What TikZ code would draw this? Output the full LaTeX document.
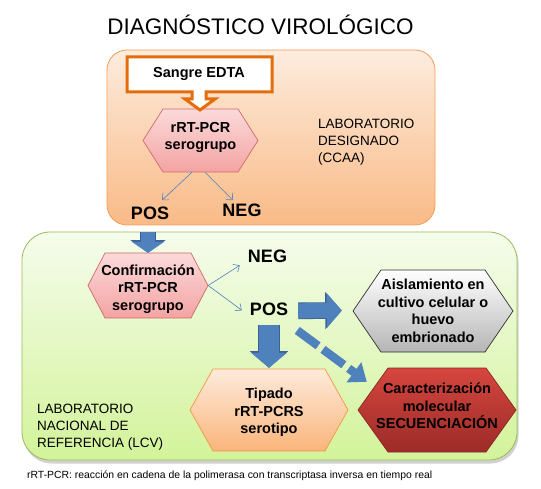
\documentclass[tikz,border=0pt]{standalone}
\usepackage{fontspec}
\setmainfont{Liberation Sans}
\usetikzlibrary{arrows.meta,calc}
\definecolor{orTop}{HTML}{FDECDE}
\definecolor{orBot}{HTML}{F9BA86}
\definecolor{orLine}{HTML}{F59D56}
\definecolor{grTop}{HTML}{F5FCEC}
\definecolor{grBot}{HTML}{D3F39A}
\definecolor{grLine}{HTML}{9BBB59}
\definecolor{callLine}{HTML}{E46C0A}
\definecolor{pkTop}{HTML}{FBDADA}
\definecolor{pkBot}{HTML}{F4A3A3}
\definecolor{pkLine}{HTML}{D06A68}
\definecolor{ohTop}{HTML}{FDEBDC}
\definecolor{ohBot}{HTML}{FAB57A}
\definecolor{ohLine}{HTML}{F79646}
\definecolor{gyTop}{HTML}{FFFFFF}
\definecolor{gyBot}{HTML}{B5B5B5}
\definecolor{gyLine}{HTML}{303030}
\definecolor{rdTop}{HTML}{D6463F}
\definecolor{rdBot}{HTML}{9C2B27}
\definecolor{rdLine}{HTML}{8A2622}
\definecolor{blueA}{HTML}{4F81BD}
\definecolor{blueD}{HTML}{3A6496}
% #1 name, #2 cx, #3 cy, #4 half width, #5 half height, #6 inset, #7 style, #8 text, #9 text shift
\newcommand\hexnode[9]{%
  \path[#7] ({#2-#4},{#3}) -- ({#2-#4+#6},{#3-#5}) -- ({#2+#4-#6},{#3-#5})
    -- ({#2+#4},{#3}) -- ({#2+#4-#6},{#3+#5}) -- ({#2-#4+#6},{#3+#5}) -- cycle;
  \node[inner sep=0pt, minimum width={2*#4}, minimum height={2*#5}] (#1) at (#2,#3) {};
  \node[hexlabel] (#1-t) at ($(#1.center)+(0,#9)$) {#8};}
% block arrow with outline: #1 shaft, #2 head width, #3 head length, #4 start, #5 end
\newcommand\blockarrow[5]{%
  \draw[blockarr, draw=blueD, line width=#1+1.6, -{Triangle[width=#2+2.4,length=#3+1.6]}] #4 -- #5;
  \draw[blockarr, line width=#1, -{Triangle[width=#2,length=#3]}] #4 -- #5;}
\tikzset{
  hexlabel/.style={inner sep=0pt, align=center, font=\bfseries\fontsize{14.5}{17.5}\selectfont},
  hexpink/.style={top color=pkTop, bottom color=pkBot, draw=pkLine, line width=0.7pt},
  hexorange/.style={top color=ohTop, bottom color=ohBot, draw=ohLine, line width=0.7pt},
  hexgray/.style={top color=gyTop, bottom color=gyBot, draw=gyLine, line width=0.7pt},
  hexred/.style={top color=rdTop, bottom color=rdBot, draw=rdLine, line width=0.7pt},
  posneg/.style={inner sep=0pt, anchor=base, font=\bfseries\fontsize{18}{20}\selectfont},
  lablab/.style={inner sep=0pt, anchor=north west, align=left, font=\fontsize{13.5}{17}\selectfont},
  thinarr/.style={draw=blueA, line width=0.6pt, -{Straight Barb[length=5pt,width=9pt]}},
  blockarr/.style={draw=blueA, line cap=butt},
  dasharr/.style={draw=blueA, line width=8.5pt, line cap=butt, dash pattern=on 26pt off 6pt,
     -{Triangle[width=24pt,length=16pt]}}
}
\begin{document}
\begin{tikzpicture}[x=1pt,y=-1pt]
\useasboundingbox (0,0) rectangle (541,489);
\fill[white] (0,0) rectangle (541,489);
% title
\node[inner sep=0pt, anchor=base, font=\fontsize{22.5}{26}\selectfont] (title) at (260.5,35) {DIAGNÓSTICO VIROLÓGICO};
% regions
\path[top color=orTop, bottom color=orBot, draw=orLine, line width=0.8pt, rounded corners=20pt]
  (107,50) rectangle (435,225);
\fill[black, opacity=0.18, rounded corners=28pt] (23.5,235) rectangle (518.5,463.5);
\path[top color=grTop, bottom color=grBot, draw=grLine, line width=0.8pt, rounded corners=28pt]
  (22,232) rectangle (517,460);
% hexagons
\hexnode{h1}{200.5}{140.5}{57.5}{31.5}{20}{hexpink}{rRT-PCR\\serogrupo}{-3}
\hexnode{h2}{148}{285.5}{60}{32.5}{17}{hexpink}{Confirmación\\rRT-PCR\\serogrupo}{3.5}
\hexnode{gray}{433}{311}{80}{41}{28}{hexgray}{Aislamiento en\\cultivo celular o\\huevo\\embrionado}{0}
\hexnode{red}{437}{410}{79}{42}{30}{hexred}{Caracterización\\molecular\\SECUENCIACIÓN}{-4}
\hexnode{tip}{269}{410}{79}{41}{23}{hexorange}{Tipado\\rRT-PCRS\\serotipo}{2.5}
% callout
\path[draw=callLine, fill=white, line width=3pt, line join=miter]
  (127,57) -- (272,57) -- (272,92) -- (206,92) -- (206,99) -- (215,99) -- (200,110)
  -- (185,99) -- (192,99) -- (192,92) -- (127,92) -- cycle;
\node[inner sep=0pt, font=\bfseries\fontsize{14.5}{17}\selectfont] (sangre) at (199,74) {Sangre EDTA};
% labels
\node[posneg] (pos1) at (150,220) {POS};
\node[posneg] (neg1) at (242,217) {NEG};
\node[posneg] (neg2) at (267.5,262) {NEG};
\node[posneg] (pos2) at (269,316) {POS};
\node[lablab] (lab1) at (318,119) {LABORATORIO\\DESIGNADO\\(CCAA)};
\node[lablab] (lab2) at (37,404) {LABORATORIO\\NACIONAL DE\\REFERENCIA (LCV)};
\node[inner sep=0pt, anchor=base west, font=\fontsize{10.4}{12}\selectfont] (foot) at (27,478)
  {rRT-PCR: reacción en cadena de la polimerasa con transcriptasa inversa en tiempo real};
% thin connectors
\draw[thinarr] ($(h1.south)+(-8.5,0)$) -- ($(pos1.north)+(12,-7)$);
\draw[thinarr] ($(h1.south)+(4.5,0)$) -- ($(neg1.north)+(-9,-4)$);
\draw[thinarr] (h2.east) -- ($(neg2.west)+(-8,9.5)$);
\draw[thinarr] (h2.east) -- ($(pos2.west)+(-8,0.5)$);
% block connectors
\blockarrow{14pt}{32pt}{11pt}{($(h2.north |- pos1.south)+(0,12)$)}{(h2.north)}
\blockarrow{15pt}{34pt}{15pt}{($(pos2.east)+(10,1)$)}{($(gray.west)+(-11,-0.5)$)}
\blockarrow{20pt}{35pt}{15pt}{($(pos2.south)+(0,9)$)}{($(tip.north)+(0,-1)$)}
\draw[dasharr] ($(pos2.south east)+(9,14)$) -- ($(red.north west)+(9,14)$);
\end{tikzpicture}
\end{document}
